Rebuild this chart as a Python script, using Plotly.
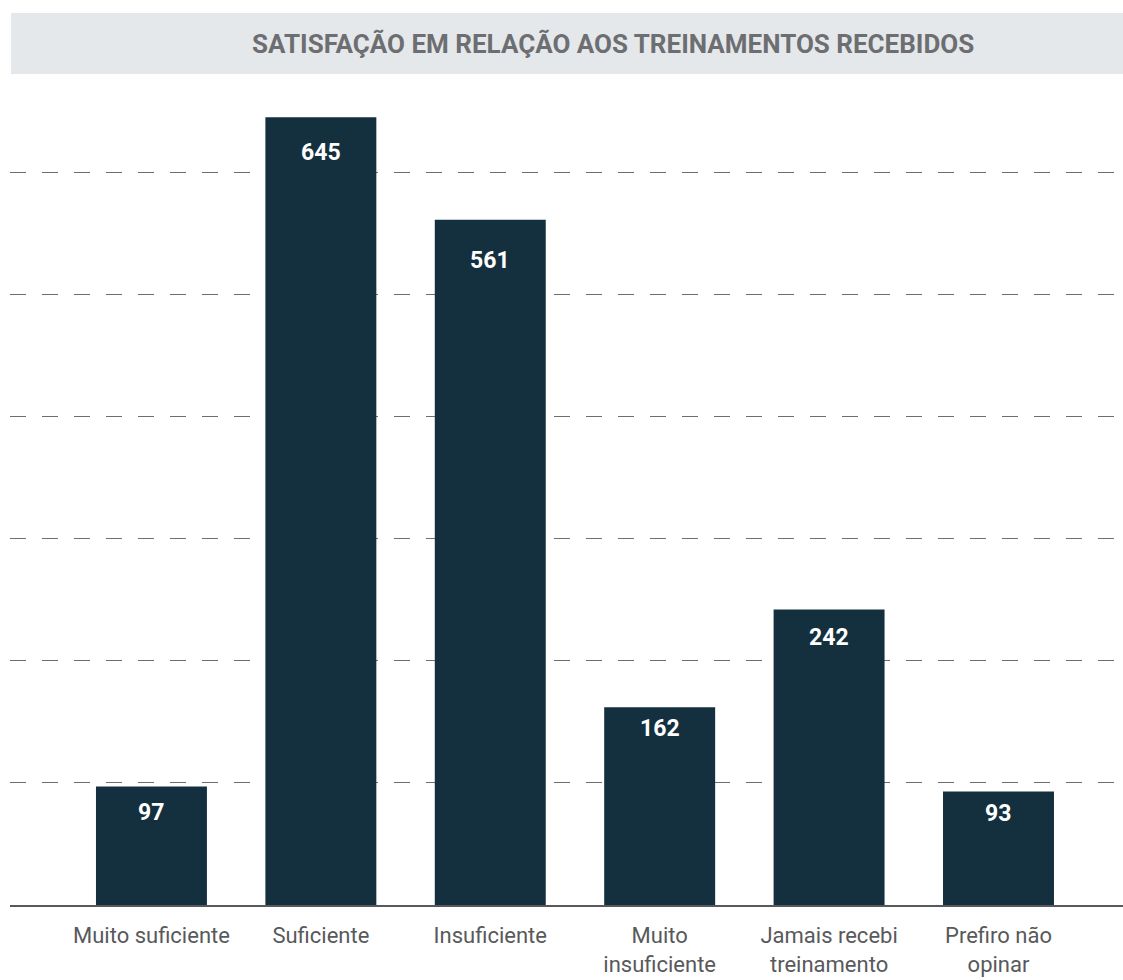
import plotly.graph_objects as go

categorias = ["Muito suficiente", "Suficiente", "Insuficiente",
              "Muito<br>insuficiente", "Jamais recebi<br>treinamento",
              "Prefiro não<br>opinar"]
respostas = [97, 645, 561, 162, 242, 93]

# distância (px) do rótulo de valor ao topo da barra
deslocamento = [26, 35, 41, 21, 28, 22]

cor_barra = "#14303f"
fonte = "Roboto"

fig = go.Figure()

fig.add_trace(
    go.Bar(x=list(range(len(categorias))), y=respostas,
           marker=dict(color=cor_barra, line=dict(width=0)),
           hoverinfo="skip", showlegend=False)
)

# rótulos de valor dentro das barras
for i, v in enumerate(respostas):
    fig.add_annotation(x=i, y=v, text="<b>%d</b>" % v, showarrow=False,
                       yshift=-deslocamento[i], yanchor="middle",
                       font=dict(family=fonte, size=23, color="white"))

# faixa cinza do título
fig.add_shape(type="rect", xref="paper", yref="paper",
              x0=0.001, x1=1, y0=0.9719, y1=1.0433,
              fillcolor="#e5e8eb", line=dict(width=0), layer="above")

fig.update_layout(
    width=1123,
    height=980,
    margin=dict(l=10, r=0, t=50, b=75),
    paper_bgcolor="white",
    plot_bgcolor="white",
    bargap=0.345,
    font=dict(family=fonte, size=22, color="#58595b"),
    title=dict(text="<b>SATISFAÇÃO EM RELAÇÃO AOS TREINAMENTOS RECEBIDOS</b>",
               x=0.546, xanchor="center", y=1 - 44 / 980, yanchor="middle",
               font=dict(family=fonte, size=26, color="#6d6e71")),
)

fig.update_xaxes(
    range=[-0.835, 5.735],
    tickmode="array",
    tickvals=list(range(len(categorias))),
    ticktext=categorias,
    ticks="",
    showgrid=False,
    showline=True,
    linecolor="#58595b",
    linewidth=2,
    ticklabelstandoff=10,
    automargin=False,
    fixedrange=True,
)

fig.update_yaxes(
    range=[0, 700],
    dtick=100,
    showticklabels=False,
    showgrid=True,
    gridcolor="#6d6e71",
    gridwidth=1,
    griddash="16px,16px",
    zeroline=False,
    showline=False,
    automargin=False,
    fixedrange=True,
)

# sem margem na página, para a figura ocupar a janela inteira
fig.write_html("out.html", config={"displayModeBar": False},
               post_script="document.body.style.margin='0';")
